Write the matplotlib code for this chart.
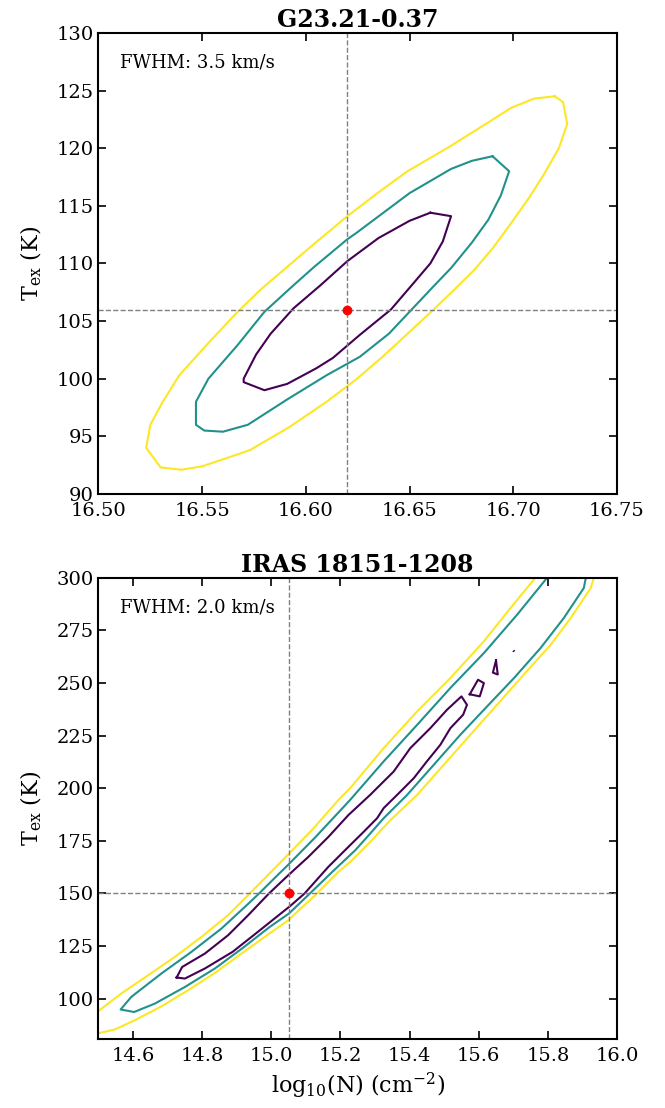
import numpy as np
import matplotlib
matplotlib.use("Agg")
import matplotlib.pyplot as plt

plt.rcParams.update({
    "font.family": "DejaVu Serif",
    "mathtext.fontset": "dejavuserif",
    "font.size": 14,
})

C1, C2, C3 = "#440154", "#21918c", "#fde725"   # viridis levels

# ── G23.21-0.37 (FWHM 3.5 km/s) ─────────────────────────────────
g23_best = (16.62, 106.0)
g23_c1_x = [16.660, 16.670, 16.666, 16.660, 16.651, 16.641, 16.626, 16.613, 16.605, 16.591, 16.580,
            16.570, 16.570, 16.576, 16.583, 16.594, 16.607, 16.620, 16.626, 16.635, 16.650, 16.660]
g23_c1_t = [114.4, 114.1, 111.9, 110.0, 108.1, 106.0, 103.8, 101.8, 100.9, 99.55, 99.0,
            99.7, 100.0, 102.1, 103.9, 106.1, 108.1, 110.2, 111.0, 112.2, 113.7, 114.4]
g23_c2_x = [16.690, 16.698, 16.694, 16.688, 16.680, 16.670, 16.662, 16.651, 16.640, 16.626, 16.610,
            16.591, 16.572, 16.560, 16.551, 16.547, 16.547, 16.553, 16.567, 16.580, 16.594, 16.604,
            16.620, 16.624, 16.650, 16.670, 16.680, 16.690]
g23_c2_t = [119.3, 118.0, 115.9, 113.8, 111.8, 109.6, 108.1, 106.0, 103.9, 101.9, 100.3,
            98.2, 96.0, 95.4, 95.5, 96.0, 98.0, 100.0, 102.9, 105.8, 108.1, 109.7,
            112.1, 112.6, 116.1, 118.2, 118.9, 119.3]
g23_c3_x = [16.720, 16.724, 16.726, 16.722, 16.715, 16.708, 16.699, 16.690, 16.681, 16.672, 16.661,
            16.649, 16.637, 16.624, 16.610, 16.592, 16.573, 16.560, 16.550, 16.540, 16.530, 16.523,
            16.525, 16.531, 16.539, 16.552, 16.566, 16.578, 16.591, 16.604, 16.620, 16.636, 16.649,
            16.669, 16.685, 16.699, 16.710, 16.720]
g23_c3_t = [124.5, 124.0, 122.1, 120.0, 117.8, 115.8, 113.5, 111.3, 109.4, 107.8, 105.9,
            103.9, 101.9, 99.9, 98.0, 95.8, 93.8, 93.0, 92.4, 92.1, 92.3, 94.0,
            96.0, 98.0, 100.3, 102.9, 105.6, 107.7, 109.7, 111.7, 114.1, 116.3, 118.0,
            120.1, 121.9, 123.5, 124.3, 124.5]

# ── IRAS 18151-1208 (FWHM 2.0 km/s) ─────────────────────────────
iras_best = (15.05, 150.0)
iras_c1_x = [14.726, 14.742, 14.808, 14.875, 14.933, 14.993, 15.049, 15.107, 15.165, 15.223, 15.286,
             15.354, 15.402, 15.460, 15.508, 15.550, 15.566, 15.555, 15.518, 15.489, 15.450, 15.412,
             15.364, 15.325, 15.306, 15.267, 15.228, 15.165, 15.096, 15.054, 14.955, 14.888, 14.808,
             14.750, 14.726]
iras_c1_t = [110.0, 115.0, 121.4, 130.1, 139.6, 149.9, 158.6, 167.3, 176.8, 187.2, 196.8,
             207.9, 219.0, 228.5, 237.2, 243.6, 239.6, 234.9, 228.5, 220.6, 212.7, 204.7,
             196.8, 190.5, 185.7, 179.2, 172.9, 162.6, 149.9, 143.9, 130.9, 122.2, 114.3,
             109.5, 110.0]
iras_c1b_x = [15.574, 15.598, 15.615, 15.603, 15.574]
iras_c1b_t = [244.6, 251.5, 249.9, 243.6, 244.6]
iras_c1c_x = [15.650, 15.655, 15.641, 15.650]
iras_c1c_t = [260.7, 254.0, 254.9, 260.7]
iras_c1d_x = [15.700, 15.703]
iras_c1d_t = [265.0, 265.3]
iras_c2_x = [15.798, 15.711, 15.615, 15.518, 15.422, 15.325, 15.228, 15.185, 15.127, 15.049,
             15.011, 14.965, 14.933, 14.856, 14.769, 14.682, 14.595, 14.564, 14.603, 14.663, 14.750,
             14.837, 14.921, 14.995, 15.051, 15.112, 15.175, 15.243, 15.286, 15.325, 15.393, 15.470,
             15.547, 15.624, 15.702, 15.779, 15.846, 15.904, 15.910]
iras_c2_t = [300.0, 282.4, 264.2, 247.6, 230.1, 212.7, 194.4, 186.8, 176.6, 163.6,
             157.5, 150.0, 145.0, 133.3, 122.2, 111.9, 100.8, 94.8, 93.6, 97.6, 105.5,
             114.3, 124.5, 134.0, 140.4, 150.0, 160.0, 170.5, 178.4, 185.7, 196.8, 211.1,
             225.4, 238.8, 252.3, 266.6, 280.8, 295.1, 300.0]
iras_c3u_x = [14.500, 14.566, 14.644, 14.721, 14.798, 14.875, 14.935, 15.000, 15.049, 15.117, 15.194,
              15.228, 15.325, 15.422, 15.518, 15.615, 15.692, 15.764]
iras_c3u_t = [94.1, 102.4, 111.1, 119.8, 129.3, 139.6, 149.5, 160.3, 168.5, 180.0, 194.3,
              200.0, 219.0, 236.5, 252.3, 269.8, 285.6, 300.0]
iras_c3l_x = [14.500, 14.547, 14.605, 14.682, 14.759, 14.837, 14.914, 14.991, 15.049, 15.132, 15.194,
              15.228, 15.286, 15.344, 15.422, 15.499, 15.576, 15.653, 15.730, 15.808, 15.866, 15.924,
              15.933]
iras_c3l_t = [83.5, 85.3, 89.7, 96.3, 103.9, 112.2, 121.4, 130.5, 137.2, 149.9, 160.2,
              164.9, 174.4, 184.7, 196.8, 211.1, 225.4, 239.6, 253.9, 268.1, 280.8, 295.1,
              300.0]

fig = plt.figure(figsize=(6.65, 11.08), dpi=100)
ax1 = fig.add_axes([0.1481, 0.5542, 0.7797, 0.4161])
ax2 = fig.add_axes([0.1481, 0.0627, 0.7797, 0.4159])


def style(ax):
    ax.tick_params(direction="in", top=True, right=True, length=6, width=1.2, labelsize=14)
    ax.tick_params(axis="x", pad=6)
    for sp in ax.spines.values():
        sp.set_linewidth(1.5)


def mark_best(ax, best):
    ax.axvline(best[0], color="gray", ls="--", lw=1)
    ax.axhline(best[1], color="gray", ls="--", lw=1)
    ax.plot(best[0], best[1], "o", color="red", ms=6, zorder=5)


# top panel
ax1.plot(g23_c1_x, g23_c1_t, color=C1, lw=1.5)
ax1.plot(g23_c2_x, g23_c2_t, color=C2, lw=1.5)
ax1.plot(g23_c3_x, g23_c3_t, color=C3, lw=1.5)
mark_best(ax1, g23_best)
ax1.set_xlim(16.50, 16.75)
ax1.set_ylim(90, 130)
ax1.set_xticks([16.50, 16.55, 16.60, 16.65, 16.70, 16.75])
ax1.set_xticklabels(["16.50", "16.55", "16.60", "16.65", "16.70", "16.75"])
ax1.set_yticks(np.arange(90, 131, 5))
ax1.set_ylabel(r"T$_{\rm ex}$ (K)", fontsize=16, labelpad=9)
ax1.set_title("G23.21-0.37", fontsize=17, fontweight="bold", pad=4)
ax1.text(0.042, 0.935, "FWHM: 3.5 km/s", transform=ax1.transAxes, fontsize=13, va="center")
style(ax1)

# bottom panel
ax2.plot(iras_c1_x, iras_c1_t, color=C1, lw=1.5)
ax2.plot(iras_c1b_x, iras_c1b_t, color=C1, lw=1.5)
ax2.plot(iras_c1c_x, iras_c1c_t, color=C1, lw=1.5)
ax2.plot(iras_c1d_x, iras_c1d_t, color=C1, lw=1.0)
ax2.plot(iras_c2_x, iras_c2_t, color=C2, lw=1.5)
ax2.plot(iras_c3u_x, iras_c3u_t, color=C3, lw=1.5)
ax2.plot(iras_c3l_x, iras_c3l_t, color=C3, lw=1.5)
mark_best(ax2, iras_best)
ax2.set_xlim(14.5, 16.0)
ax2.set_ylim(81, 300)
ax2.set_xticks(np.arange(14.6, 16.01, 0.2))
ax2.set_yticks(np.arange(100, 301, 25))
ax2.set_xlabel(r"log$_{10}$(N) (cm$^{-2}$)", fontsize=16)
ax2.set_ylabel(r"T$_{\rm ex}$ (K)", fontsize=16, labelpad=9)
ax2.set_title("IRAS 18151-1208", fontsize=17, fontweight="bold", pad=4)
ax2.text(0.042, 0.935, "FWHM: 2.0 km/s", transform=ax2.transAxes, fontsize=13, va="center")
style(ax2)

fig.savefig("out.png", dpi=100)
